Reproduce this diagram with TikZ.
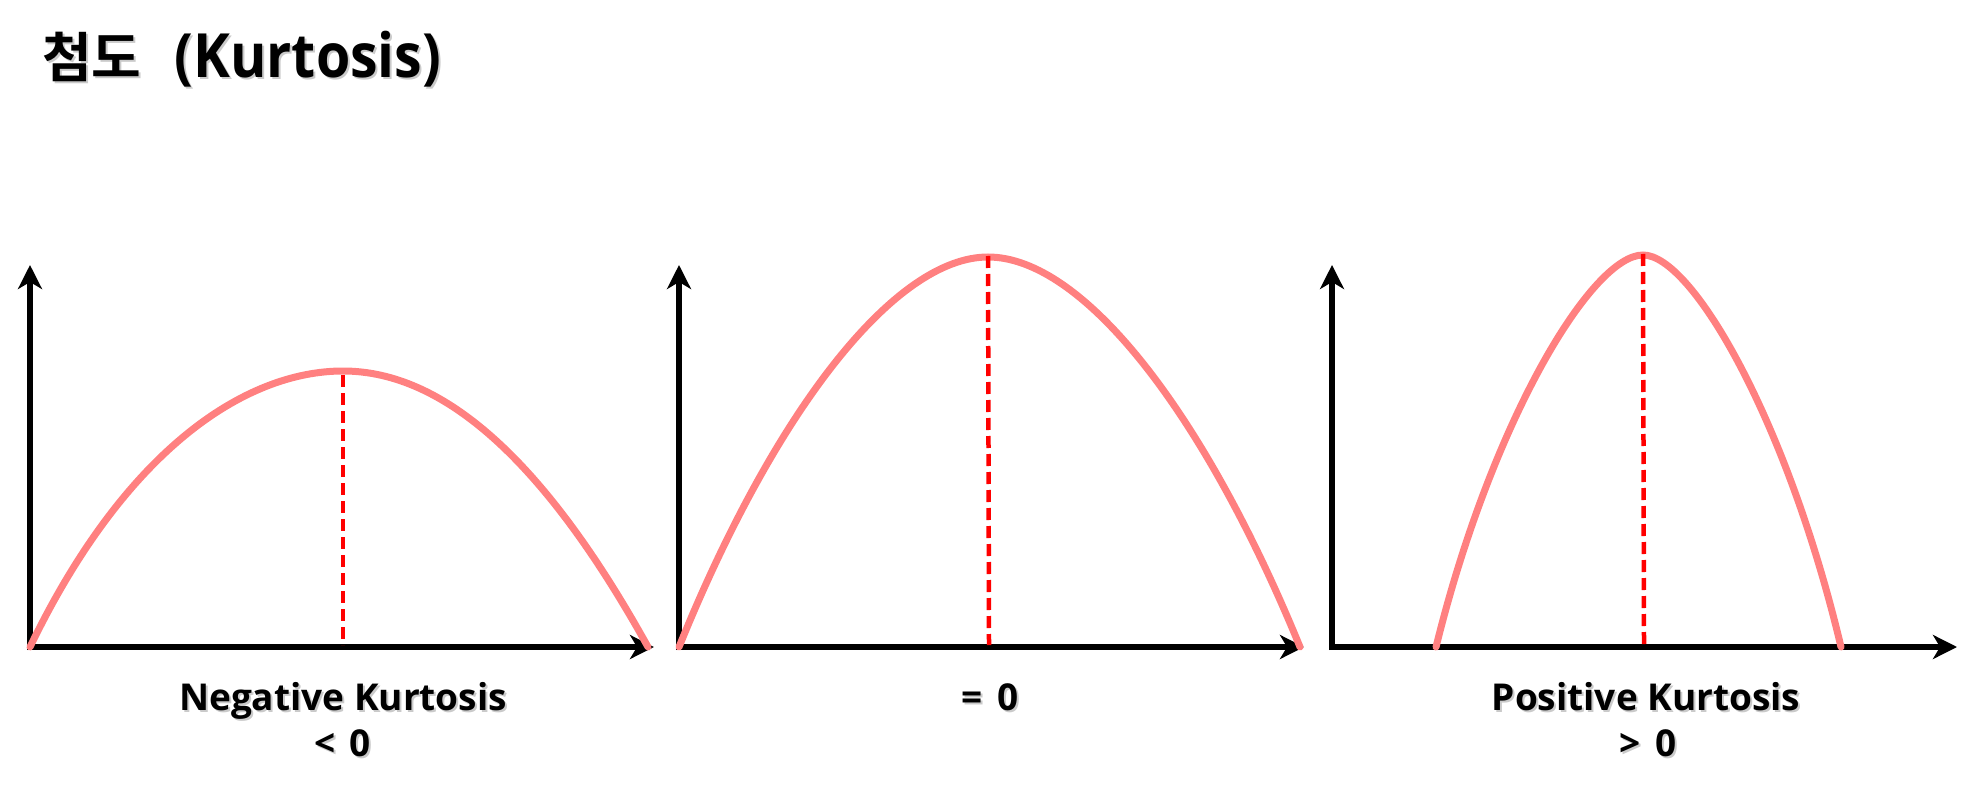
\documentclass[tikz,border=0pt]{standalone}
\usepackage{fontspec}
\setmainfont{Open Sans}
\newfontfamily\krfont{Noto Sans CJK KR Bold}
\usetikzlibrary{arrows.meta}
\definecolor{curvecol}{RGB}{255,128,128}
\definecolor{dashcol}{RGB}{255,0,0}
\tikzset{
  axisline/.style={line width=6pt, -{Stealth[length=24pt,width=24pt,inset=7pt]}},
  curveline/.style={line width=7pt, curvecol, line cap=round},
  peakline/.style={line width=4.5pt, dashcol, dash pattern=on 12pt off 6pt},
  lbl/.style={anchor=base, inner sep=0pt, font=\bfseries\fontsize{37}{44}\selectfont},
  ttl/.style={anchor=base west, inner sep=0pt}
}
\newcommand{\titletext}{{\krfont\fontsize{54}{60}\selectfont 첨도}\hspace{33pt}\scalebox{0.91}[1]{\bfseries\fontsize{61}{64}\selectfont(Kurtosis)}}
\begin{document}
\begin{tikzpicture}[x=1pt,y=-1pt]
\useasboundingbox (0,0) rectangle (1977,791);
% title
\node[ttl, text=black!35, opacity=0.6] at (44,80) {\titletext};
\node (title) [ttl] at (42,78) {\titletext};

% ---------- panel 1
\coordinate (o1) at (27,647);
\coordinate (y1) at (30,265);
\coordinate (x1) at (654,647);
\draw[axisline] (o1) -- (x1);
\draw[axisline] (30,650) -- (y1);
\coordinate (s1) at (30,647);
\coordinate (p1) at (343,371);
\coordinate (e1) at (648,647);
\draw[curveline] (s1) .. controls (125,450) and (245,371) .. (p1)
                     .. controls (445,371) and (546,463) .. (e1);
\coordinate (d1) at (343,645);
\draw[peakline] (343,375) -- (d1);

% ---------- panel 2
\coordinate (o2) at (676,647);
\coordinate (y2) at (679,265);
\coordinate (x2) at (1304,647);
\draw[axisline] (o2) -- (x2);
\draw[axisline] (679,650) -- (y2);
\coordinate (s2) at (679,647);
\coordinate (p2) at (988,257);
\coordinate (e2) at (1300,647);
\draw[curveline] (s2) .. controls (775,410) and (895,257) .. (p2)
                     .. controls (1082,257) and (1203,410) .. (e2);
\draw[peakline] (988,256) -- (989,645);

% ---------- panel 3
\coordinate (o3) at (1329,647);
\coordinate (y3) at (1332,265);
\coordinate (x3) at (1957,647);
\draw[axisline] (o3) -- (x3);
\draw[axisline] (1332,650) -- (y3);
\coordinate (s3) at (1436,647);
\coordinate (p3) at (1643,255);
\coordinate (e3) at (1841,647);
\draw[curveline] (s3) .. controls (1492,420) and (1592,255) .. (p3)
                     .. controls (1692,255) and (1787,420) .. (e3);
\draw[peakline] (1643,254) -- (1644,645);

% ---------- labels
\foreach \n/\x/\y/\t in {a/343/710/{Negative Kurtosis}, b/343/756/{<\hspace{14pt}0}, c/990/710/{=\hspace{14pt}0}, d/1646/710/{Positive Kurtosis}, e/1648/756/{>\hspace{14pt}0}}{
  \node[lbl, text=black!35, opacity=0.6] at (\x+2,\y+2) {\t};
  \node[lbl] (lab\n) at (\x,\y) {\t};
}
\end{tikzpicture}
\end{document}
